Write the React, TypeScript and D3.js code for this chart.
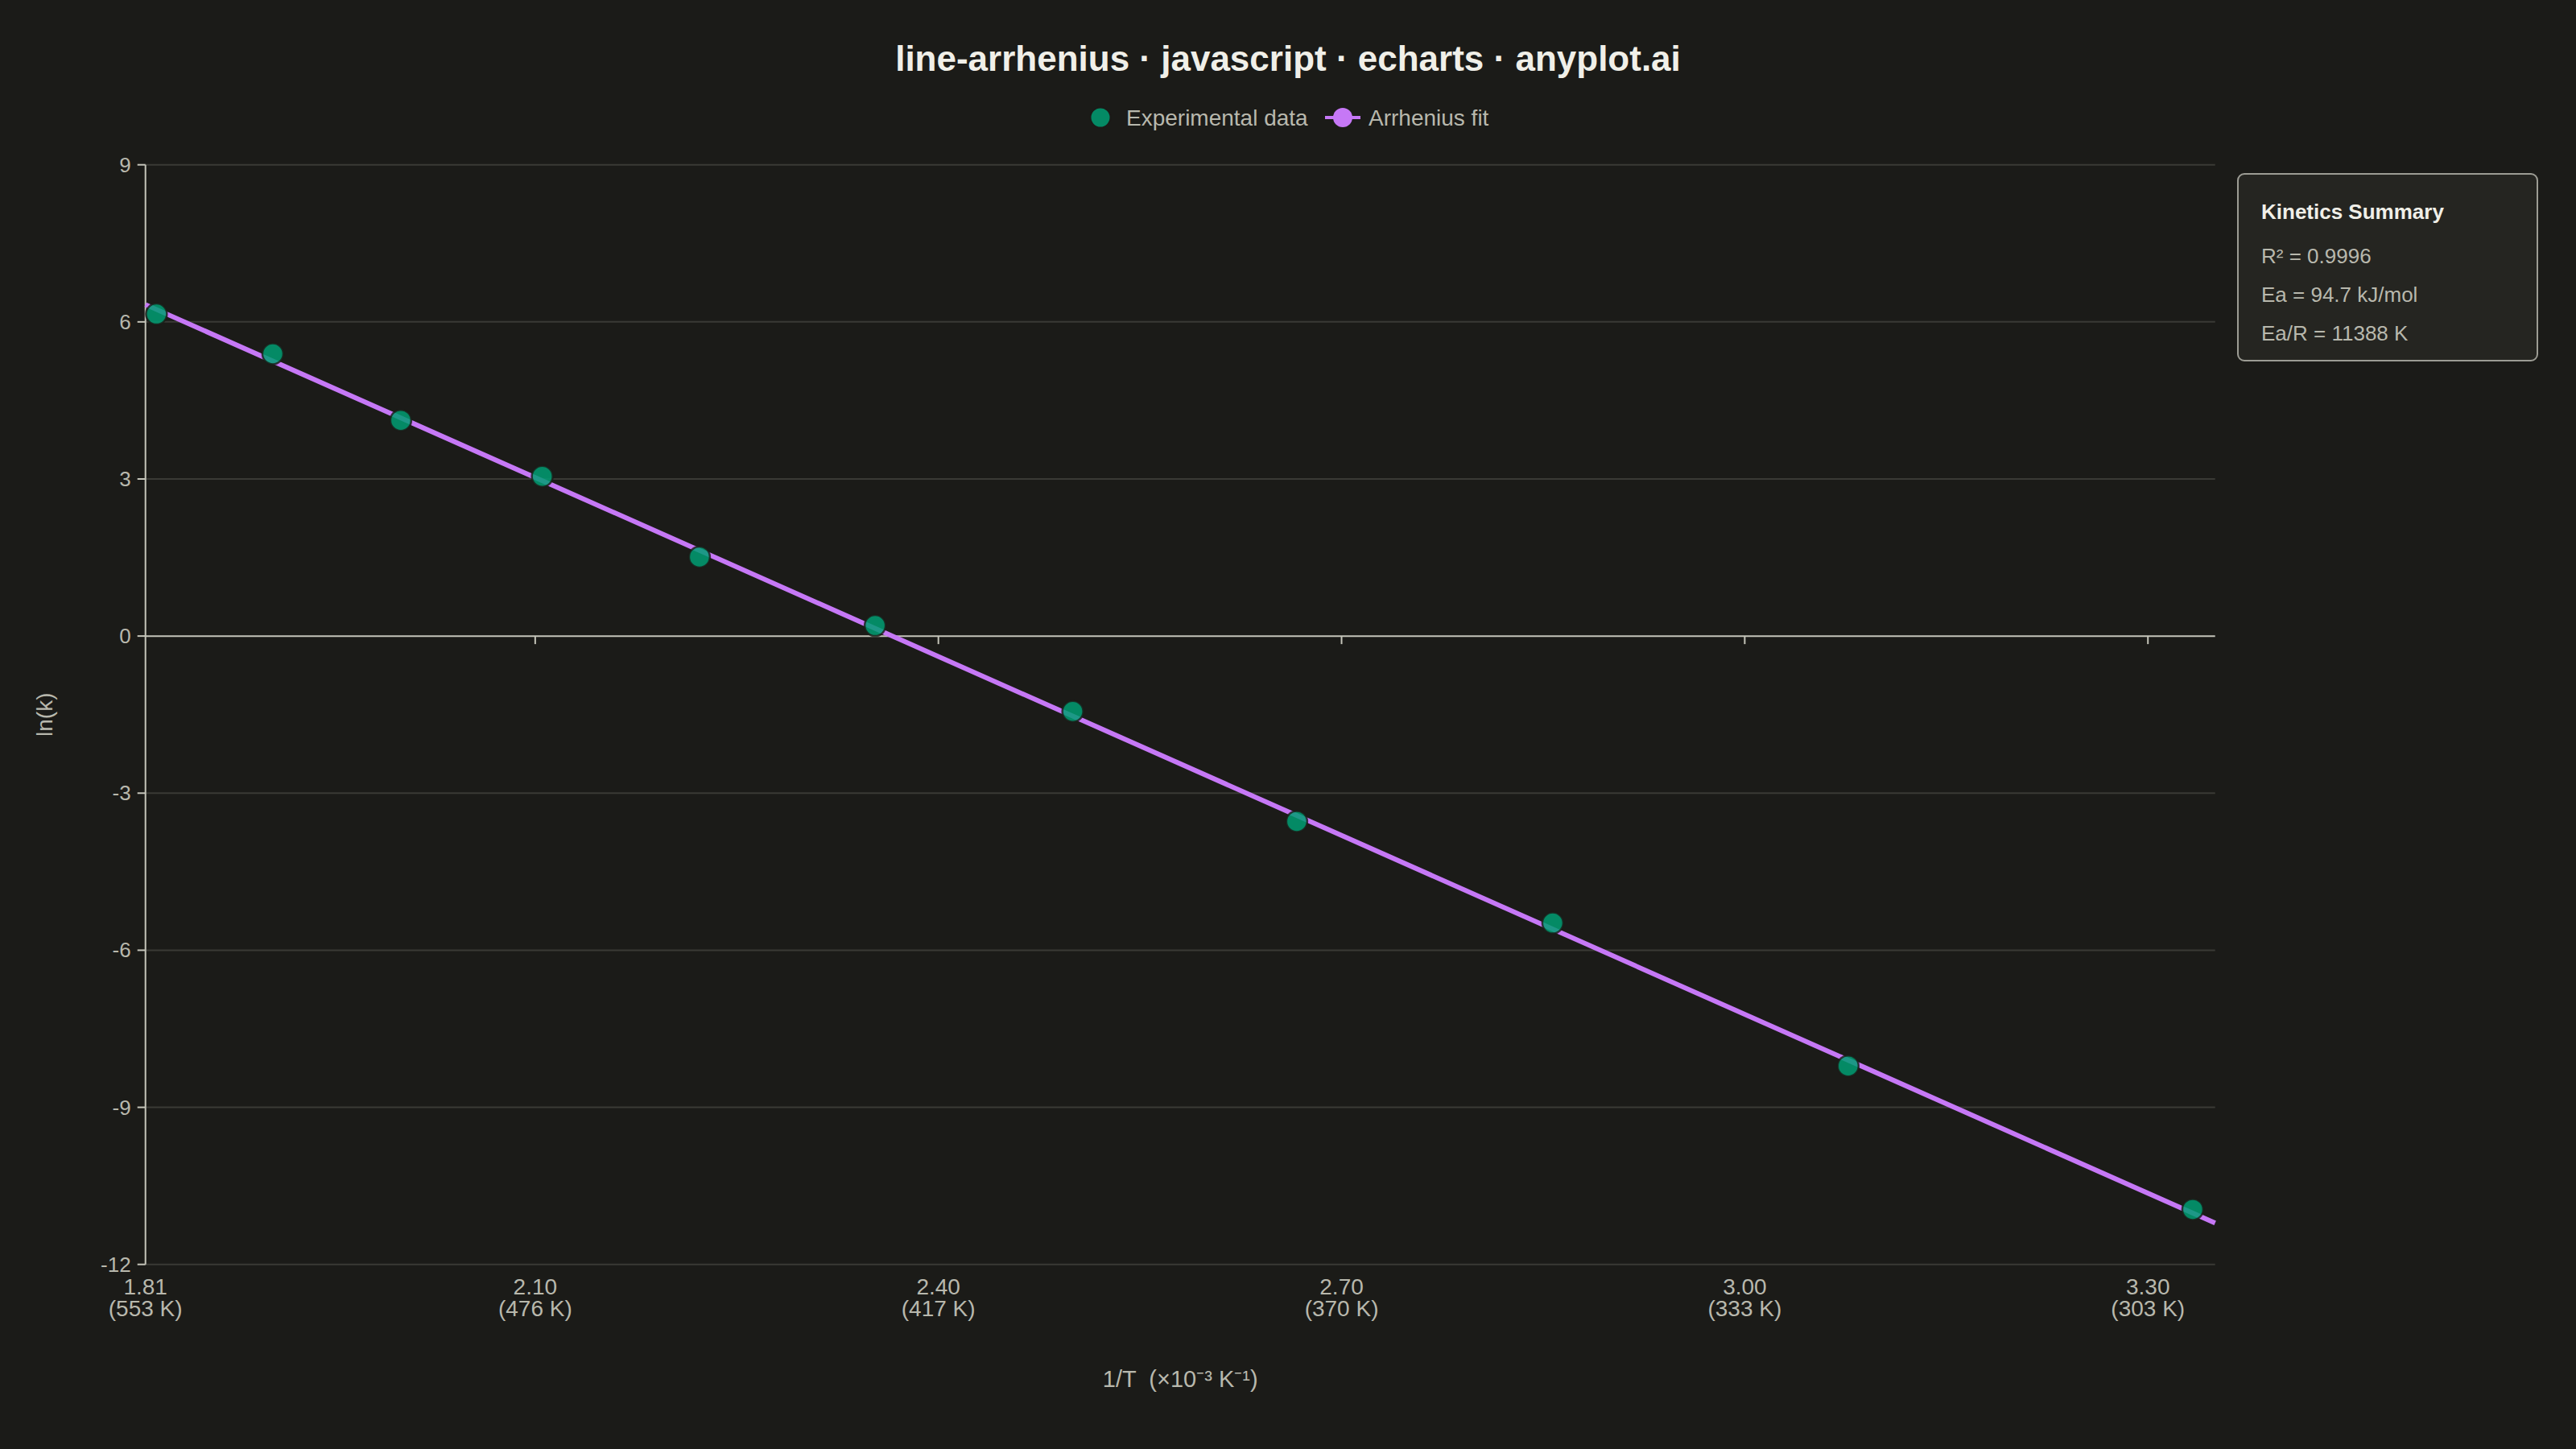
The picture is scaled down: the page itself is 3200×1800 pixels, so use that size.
import { useEffect, useRef } from "react";
import * as d3 from "d3";

// Experimental rate constants (temperature in K, ln k)
const temperatures = [550, 525, 500, 475, 450, 425, 400, 375, 350, 325, 300];
const lnK = [6.15, 5.39, 4.12, 3.05, 1.51, 0.2, -1.44, -3.54, -5.48, -8.21, -10.95];

// Arrhenius fit endpoints (1/T in 1e-3 K^-1, ln k)
const fitInvT = [1.81, 3.35];
const fitLnK = [6.33, -11.21];

// x axis: min label plus regular ticks, with matching temperatures
const xTicks = [1.81, 2.1, 2.4, 2.7, 3.0, 3.3];
const xTickKelvin = ["553 K", "476 K", "417 K", "370 K", "333 K", "303 K"];
const yTicks = [-12, -9, -6, -3, 0, 3, 6, 9];

const summaryLines = ["R² = 0.9996", "Ea = 94.7 kJ/mol", "Ea/R = 11388 K"];

const W = 3200;
const H = 1800;
const BG = "#1b1b18";
const TEXT = "#b8b8ad";
const TITLE = "#f0efe8";
const GRID = "#3a3a35";
const AXIS = "#c5c5ba";
const GREEN = "#009E73";
const PURPLE = "#c678f6";
const FONT = "'Liberation Sans', Arial, sans-serif";

export default function App() {
  const ref = useRef(null);

  useEffect(() => {
    document.body.style.margin = "0";
    document.body.style.background = BG;
    if (!ref.current) return;

    const svg = d3.select(ref.current);
    svg.selectAll("*").remove();

    const margin = { left: 180.7, right: W - 2751.7, top: 204.7, bottom: H - 1570.7 };
    const xMin = 1.81;
    const xMax = 3.35;
    const x = d3.scaleLinear().domain([xMin, xMax]).range([margin.left, W - margin.right]);
    const y = d3.scaleLinear().domain([-12, 9]).range([H - margin.bottom, margin.top]);

    svg.append("rect").attr("width", W).attr("height", H).attr("fill", BG);

    const g = svg.append("g").style("font-family", FONT);

    // title
    g.append("text")
      .attr("x", W / 2)
      .attr("y", 88)
      .attr("text-anchor", "middle")
      .attr("fill", TITLE)
      .attr("font-size", 44)
      .attr("font-weight", "bold")
      .text("line-arrhenius · javascript · echarts · anyplot.ai");

    // legend
    const leg = g.append("g");
    leg.append("circle")
      .attr("cx", 1367).attr("cy", 146).attr("r", 12.5)
      .attr("fill", GREEN).attr("fill-opacity", 0.85)
      .attr("stroke", BG).attr("stroke-width", 2);
    leg.append("text")
      .attr("x", 1399).attr("y", 146)
      .attr("dominant-baseline", "central")
      .attr("fill", TEXT).attr("font-size", 28)
      .text("Experimental data");
    leg.append("line")
      .attr("x1", 1646).attr("x2", 1690).attr("y1", 146).attr("y2", 146)
      .attr("stroke", PURPLE).attr("stroke-width", 4);
    leg.append("circle")
      .attr("cx", 1668).attr("cy", 146).attr("r", 12)
      .attr("fill", PURPLE);
    leg.append("text")
      .attr("x", 1700).attr("y", 146)
      .attr("dominant-baseline", "central")
      .attr("fill", TEXT).attr("font-size", 28)
      .text("Arrhenius fit");

    // horizontal grid lines
    g.append("g")
      .selectAll("line")
      .data(yTicks.filter((t) => t !== 0))
      .join("line")
      .attr("x1", x(xMin))
      .attr("x2", x(xMax))
      .attr("y1", (d) => y(d))
      .attr("y2", (d) => y(d))
      .attr("stroke", GRID)
      .attr("stroke-width", 2);

    // y axis
    const yAxis = g.append("g");
    yAxis.append("line")
      .attr("x1", x(xMin)).attr("x2", x(xMin))
      .attr("y1", y(-12)).attr("y2", y(9))
      .attr("stroke", AXIS).attr("stroke-width", 2);
    yAxis.selectAll("line.tick")
      .data(yTicks)
      .join("line")
      .attr("class", "tick")
      .attr("x1", x(xMin) - 10).attr("x2", x(xMin))
      .attr("y1", (d) => y(d)).attr("y2", (d) => y(d))
      .attr("stroke", AXIS).attr("stroke-width", 2);
    yAxis.selectAll("text")
      .data(yTicks)
      .join("text")
      .attr("x", x(xMin) - 18)
      .attr("y", (d) => y(d))
      .attr("text-anchor", "end")
      .attr("dominant-baseline", "central")
      .attr("fill", TEXT)
      .attr("font-size", 26)
      .text((d) => String(d));

    // x axis line sits on zero
    const xAxis = g.append("g");
    xAxis.append("line")
      .attr("x1", x(xMin)).attr("x2", x(xMax))
      .attr("y1", y(0)).attr("y2", y(0))
      .attr("stroke", AXIS).attr("stroke-width", 2);
    xAxis.selectAll("line.tick")
      .data(xTicks.slice(1))
      .join("line")
      .attr("class", "tick")
      .attr("x1", (d) => x(d)).attr("x2", (d) => x(d))
      .attr("y1", y(0)).attr("y2", y(0) + 10)
      .attr("stroke", AXIS).attr("stroke-width", 2);

    // x labels at the bottom: 1/T and the matching temperature
    const xl = xAxis.selectAll("g.lbl")
      .data(xTicks)
      .join("g")
      .attr("class", "lbl")
      .attr("transform", (d) => `translate(${x(d)},0)`);
    xl.append("text")
      .attr("y", 1608)
      .attr("text-anchor", "middle")
      .attr("fill", TEXT)
      .attr("font-size", 28)
      .text((d) => d.toFixed(2));
    xl.append("text")
      .attr("y", 1635)
      .attr("text-anchor", "middle")
      .attr("fill", TEXT)
      .attr("font-size", 28)
      .text((_d, i) => `(${xTickKelvin[i]})`);

    // axis names
    g.append("text")
      .attr("x", (x(xMin) + x(xMax)) / 2)
      .attr("y", 1713)
      .attr("text-anchor", "middle")
      .attr("dominant-baseline", "central")
      .attr("fill", TEXT)
      .attr("font-size", 29)
      .style("white-space", "pre")
      .text("1/T  (×10⁻³ K⁻¹)");
    g.append("text")
      .attr("transform", `translate(55,${(y(-12) + y(9)) / 2}) rotate(-90)`)
      .attr("text-anchor", "middle")
      .attr("dominant-baseline", "central")
      .attr("fill", TEXT)
      .attr("font-size", 28)
      .text("ln(k)");

    // fit line
    const fitData = fitInvT.map((v, i) => [v, fitLnK[i]]);
    const line = d3.line().x((d) => x(d[0])).y((d) => y(d[1]));
    g.append("path")
      .datum(fitData)
      .attr("d", line)
      .attr("fill", "none")
      .attr("stroke", PURPLE)
      .attr("stroke-width", 6);

    // experimental points
    const pts = temperatures.map((t, i) => ({ invT: 1000 / t, lnK: lnK[i] }));
    g.append("g")
      .selectAll("circle")
      .data(pts)
      .join("circle")
      .attr("cx", (d) => x(d.invT))
      .attr("cy", (d) => y(d.lnK))
      .attr("r", 13)
      .attr("fill", GREEN)
      .attr("fill-opacity", 0.85)
      .attr("stroke", BG)
      .attr("stroke-opacity", 0.8)
      .attr("stroke-width", 2.5);

    // kinetics summary box
    const box = g.append("g").attr("transform", "translate(2780,216)");
    box.append("rect")
      .attr("width", 372)
      .attr("height", 232)
      .attr("rx", 8)
      .attr("fill", "#252521")
      .attr("stroke", "#9c9c94")
      .attr("stroke-width", 2);
    box.append("text")
      .attr("x", 29)
      .attr("y", 56)
      .attr("fill", TITLE)
      .attr("font-size", 26)
      .attr("font-weight", "bold")
      .text("Kinetics Summary");
    box.selectAll("text.line")
      .data(summaryLines)
      .join("text")
      .attr("class", "line")
      .attr("x", 29)
      .attr("y", (_d, i) => 111 + i * 48)
      .attr("fill", TEXT)
      .attr("font-size", 26)
      .text((d) => d);
  }, []);

  return <svg ref={ref} width={W} height={H} style={{ display: "block" }} />;
}
